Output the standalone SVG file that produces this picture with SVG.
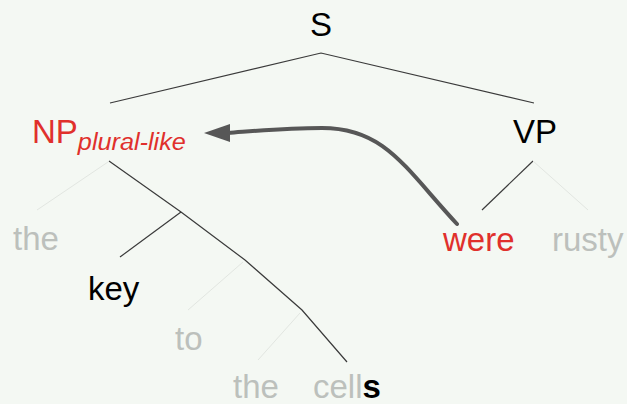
<svg xmlns="http://www.w3.org/2000/svg" width="627" height="404" viewBox="0 0 627 404">
<style>
text{font-family:"Liberation Sans",Arial,Helvetica,sans-serif;font-size:33px}
.red{fill:#e0302c}
.blk{fill:#000}
.gry{fill:#bcc0bc}
.edge{stroke:#3a3a3a;stroke-width:1.2;fill:none}
.faint{stroke:#e2e6e1;stroke-width:1;fill:none}
.mv{stroke:#575757;stroke-width:4;fill:none;stroke-linecap:round}
</style>
<rect width="627" height="404" fill="#f4f8f3"/>
<g id="connectors">
<polyline class="edge" points="110,103 321,53 534,103"/>
<polyline class="edge" points="109,161 181,212 245,260 302,310 347,362"/>
<line class="edge" x1="181" y1="212" x2="120" y2="257"/>
<line class="faint" x1="108" y1="162" x2="37" y2="210"/>
<line class="faint" x1="243" y1="262" x2="188" y2="310"/>
<line class="faint" x1="300" y1="313" x2="258" y2="360"/>
<line class="edge" x1="533" y1="161" x2="482" y2="210"/>
<line class="faint" x1="533" y1="161" x2="588" y2="210"/>
<path class="mv" d="M457,224 C405,168 385,128 322,128 C285,128 255,131 228,133"/>
<polygon points="204,133 230,124 230,142" fill="#575757"/>
</g>
<g id="S"><text class="blk" x="321" y="36" text-anchor="middle">S</text></g>
<g id="NP"><text class="red" x="32" y="143">NP<tspan font-size="23" font-style="italic" dy="7" textLength="108" lengthAdjust="spacingAndGlyphs">plural-like</tspan></text></g>
<g id="VP"><text class="blk" x="513" y="143">VP</text></g>
<g id="the1"><text class="gry" x="13" y="250">the</text></g>
<g id="key"><text class="blk" x="88" y="300">key</text></g>
<g id="to"><text class="gry" x="175" y="350">to</text></g>
<g id="the2"><text class="gry" x="233" y="398">the</text></g>
<g id="cells"><text class="gry" x="313" y="398">cell<tspan class="blk" font-weight="bold">s</tspan></text></g>
<g id="were"><text class="red" x="443" y="251">were</text></g>
<g id="rusty"><text class="gry" x="552" y="251">rusty</text></g>
</svg>
